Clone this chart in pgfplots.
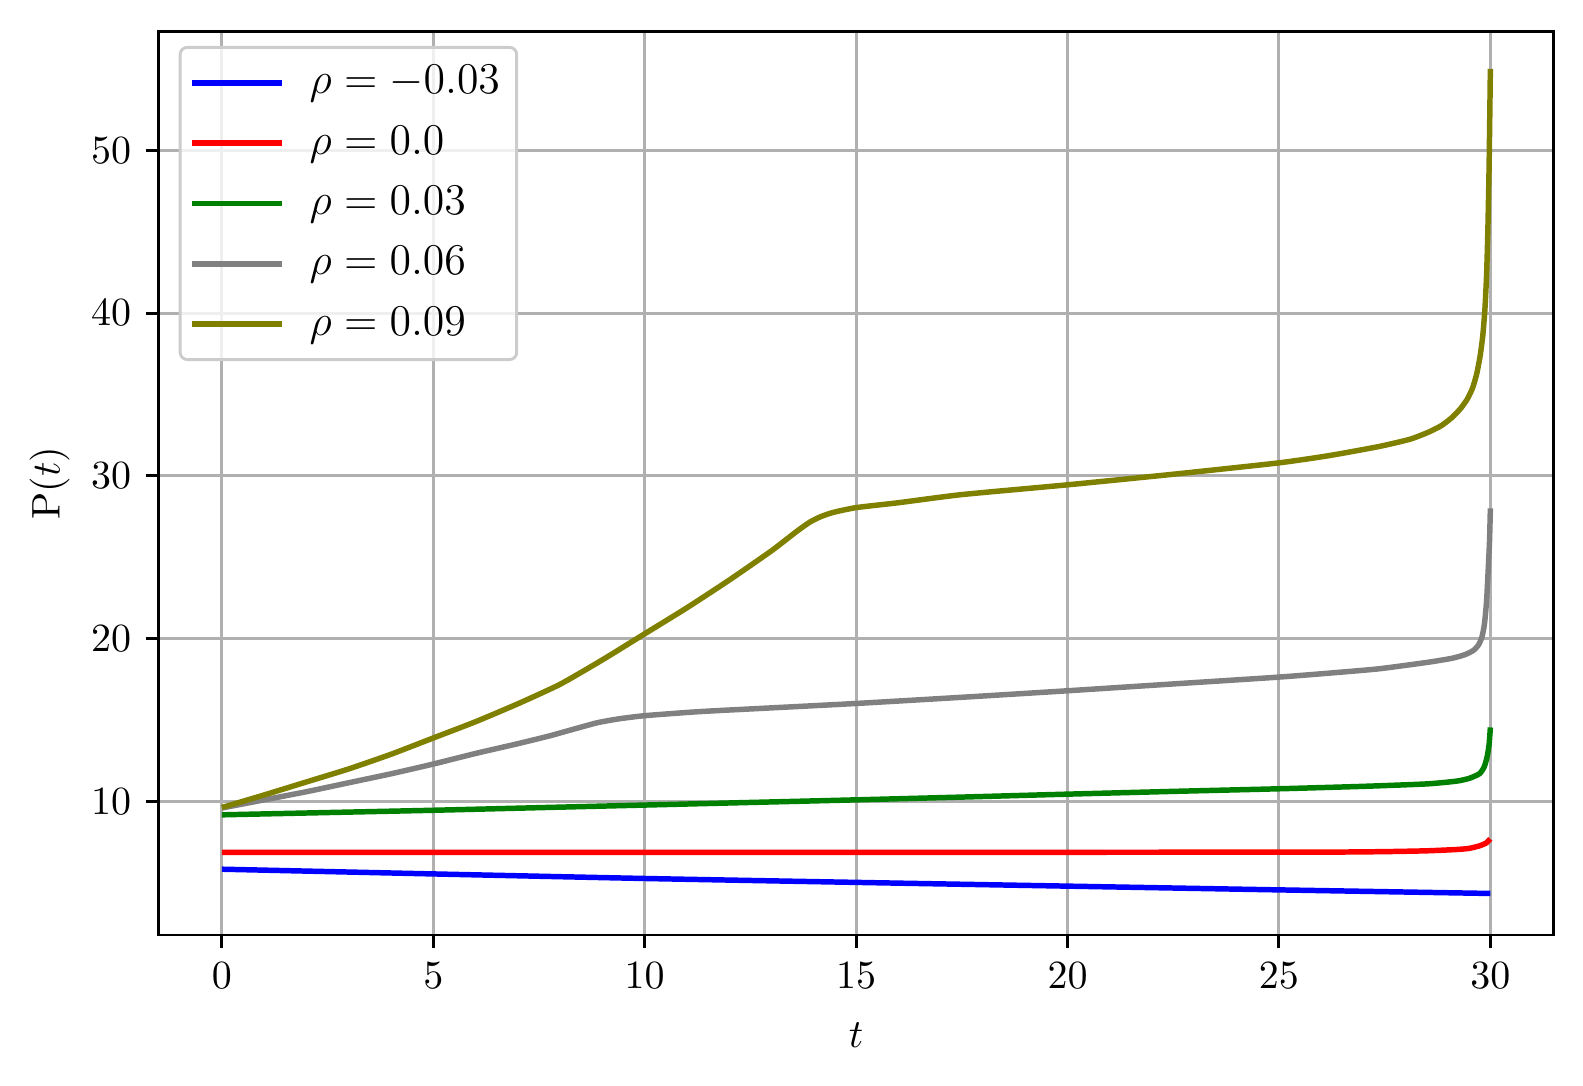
\documentclass[border=0pt]{standalone}
\usepackage{pgfplots}
\pgfplotsset{compat=1.18}
\definecolor{mplgrid}{RGB}{176,176,176}
\definecolor{mplolive}{RGB}{128,128,0}
\definecolor{mplgray}{RGB}{128,128,128}
\definecolor{mplgreen}{RGB}{0,128,0}
\begin{document}
\fontsize{11.3}{13.6}\selectfont
\begin{tikzpicture}
\begin{axis}[
    name=ax,
    width=382.2pt, height=247.5pt,
    scale only axis,
    xmin=-1.5, xmax=31.5,
    ymin=1.8, ymax=57.3,
    xtick={0,5,...,30},
    ytick={10,20,...,50},
    xlabel={$t$},
    ylabel={$\mathrm{P}(t)$},
    x label style={at={(axis description cs:0.5,-0.111)}, anchor=center},
    y label style={at={(axis description cs:-0.078,0.5)}, anchor=center},
    tick label style={font=\fontsize{11.3}{13.6}\selectfont},
    label style={font=\fontsize{11.3}{13.6}\selectfont},
    grid=major,
    major grid style={mplgrid, line width=0.8pt},
    axis line style={line width=0.8pt},
    tick align=outside,
    tick pos=left,
    major tick length=3.5pt,
    every tick/.style={black, line width=0.8pt},
    legend style={at={(0.0145,0.984)}, anchor=north west, draw=black!20,
        rounded corners=2pt, line width=0.8pt, inner xsep=2.6pt, inner ysep=3pt,
        row sep=3.1pt, font=\fontsize{11.8}{14.2}\selectfont,
        fill=white, fill opacity=0.8, text opacity=1},
    legend cell align=left,
    legend image code/.code={\draw[#1] (0pt,0pt) -- (24.6pt,0pt); \path (29.4pt,0pt);},
    every axis plot/.append style={line width=1.5pt, smooth, tension=0.35},
]
\addplot[blue] coordinates {
    (0,5.84) (5,5.55) (10,5.27) (15,5.03) (20,4.8) (25,4.57) (30,4.35)
};
\addlegendentry{$\rho = -0.03$}

\addplot[red] coordinates {
    (0,6.88) (10,6.88) (20,6.88) (26,6.89) (27.5,6.92) (28.5,6.97) (29.2,7.05)
    (29.5,7.12) (29.75,7.28) (29.9,7.45) (30,7.7)
};
\addlegendentry{$\rho = 0.0$}

\addplot[mplgreen] coordinates {
    (0,9.18) (2.5,9.32) (5,9.46) (7.5,9.62) (10,9.78) (12.5,9.94) (15,10.1)
    (17.5,10.27) (20,10.45) (22.5,10.62) (25,10.78) (27,10.93) (28.5,11.08)
    (29.2,11.25) (29.5,11.42) (29.74,11.7) (29.85,12.1) (29.92,12.7)
    (29.97,13.5) (30,14.55)
};
\addlegendentry{$\rho = 0.03$}

\addplot[mplgray] coordinates {
    (0,9.6) (1,10.1) (2,10.6) (3,11.15) (4,11.7) (5,12.3) (6,12.95) (7,13.55)
    (7.75,14.03) (8.4,14.5) (8.9,14.85) (9.4,15.08) (10,15.27) (11.3,15.52)
    (13,15.75) (15,16.02) (17.5,16.4) (20,16.8) (22.5,17.22) (25,17.64)
    (26.5,17.95) (27.4,18.16) (28.55,18.56) (29.1,18.8) (29.4,19.02)
    (29.6,19.28) (29.72,19.62) (29.8,20.1) (29.86,20.9) (29.91,22.3)
    (29.95,24.3) (29.98,26.0) (30,28.0)
};
\addlegendentry{$\rho = 0.06$}

\addplot[mplolive] coordinates {
    (0,9.63) (1,10.4) (2,11.2) (3,12.0) (4,12.9) (5,13.9) (6,14.9) (7,16.0)
    (8,17.2) (9,18.7) (10,20.3) (11,21.9) (12,23.6) (13,25.4) (13.6,26.6)
    (13.9,27.15) (14.15,27.48) (14.45,27.75) (15,28.05) (16,28.35)
    (17.5,28.85) (20,29.45) (22.5,30.1) (25,30.8) (26.2,31.25) (27.36,31.8)
    (28.1,32.25) (28.55,32.7) (28.85,33.1) (29.1,33.6) (29.3,34.15)
    (29.45,34.7) (29.58,35.4) (29.68,36.3) (29.76,37.4) (29.82,38.6)
    (29.87,40.2) (29.91,42.3) (29.94,45.0) (29.97,49.0) (30,55.0)
};
\addlegendentry{$\rho = 0.09$}
\end{axis}
\pgfresetboundingbox
\path[use as bounding box] ([xshift=-43.4pt,yshift=-41.1pt]ax.south west)
    rectangle ([xshift=8pt,yshift=8.6pt]ax.north east);
\end{tikzpicture}
\end{document}
